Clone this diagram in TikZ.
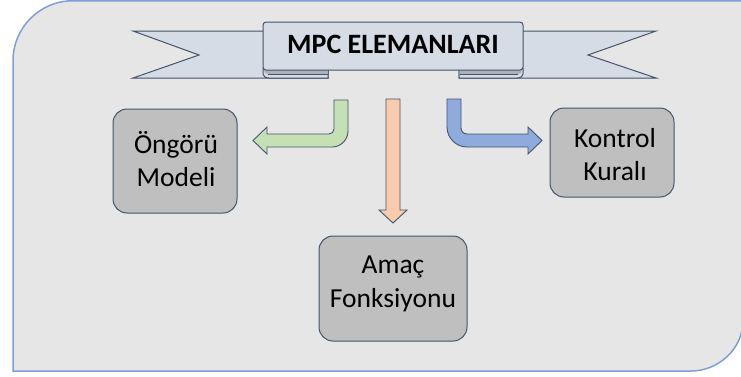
\documentclass[tikz,border=0pt]{standalone}
\usepackage{fontspec}
\setmainfont{Carlito}
\definecolor{bgfill}{HTML}{E7E6E6}
\definecolor{bgedge}{HTML}{7F9ED8}
\definecolor{edge}{HTML}{44546A}
\definecolor{ribbonfill}{HTML}{D6DCE5}
\definecolor{folddark}{HTML}{ABB2BC}
\definecolor{boxgray}{HTML}{BFBFBF}
\definecolor{greenfill}{HTML}{C5E0B4}
\definecolor{orangefill}{HTML}{F8CBAD}
\definecolor{bluefill}{HTML}{8FAADC}
\begin{document}
\begin{tikzpicture}[x=1pt,y=-1pt,
  boxnode/.style={draw=edge, fill=boxgray, rounded corners=14pt, line width=1pt, inner sep=0pt},
  lbl/.style={anchor=base, font=\fontsize{27.5}{33}\selectfont, inner sep=0pt},
  titlelbl/.style={anchor=base, font=\fontsize{28}{33}\selectfont\bfseries, inner sep=0pt},
  blockarrow/.style={draw=edge, line width=0.9pt, line join=miter},
  ribbon/.style={draw=edge, fill=ribbonfill, line width=1pt, line join=miter}]
\useasboundingbox (0,0) rectangle (741,376);
% background panel
\draw[fill=bgfill, draw=bgedge, line width=1.5pt]
  (13,371) -- (13,60.75) .. controls (13,27.6) and (39.9,0.75) .. (73,0.75)
  -- (743,0.75) -- (743,321) .. controls (743,348.6) and (718.6,371) .. (691,371) -- cycle;
% ribbon tails
\draw[ribbon] (133,31) -- (328,31) -- (328,78) -- (133,78) -- (199,55) -- cycle;
\draw[ribbon] (656,31) -- (459,31) -- (459,78) -- (656,78) -- (588,55) -- cycle;
% ribbon folds (curl under the centre band)
\draw[ribbon] (263,68) -- (328,68) -- (328,78) -- (269,78)
  .. controls (265.5,78) and (263,76.5) .. (263,74) -- cycle;
\fill[folddark] (264,70) -- (327.5,70) -- (327.5,74) -- (268,74)
  .. controls (265.5,74) and (264,72.5) .. (264,70) -- cycle;
\draw[edge, line width=0.6pt] (268,74) -- (327.5,74);
\draw[ribbon] (523,68) -- (459,68) -- (459,78) -- (517,78)
  .. controls (520.5,78) and (523,76.5) .. (523,74) -- cycle;
\fill[folddark] (522,70) -- (459.5,70) -- (459.5,74) -- (518,74)
  .. controls (520.5,74) and (522,72.5) .. (522,70) -- cycle;
\draw[edge, line width=0.6pt] (518,74) -- (459.5,74);
% ribbon centre
\node[ribbon, rounded corners=3pt, minimum width=260pt, minimum height=48pt, inner sep=0pt]
  (title) at (393,46) {};
\node[titlelbl] (titletext) at (393,53) {MPC ELEMANLARI};
% block arrows
\draw[blockarrow, fill=greenfill]
  (334,100) -- (348,100) -- (348,131) .. controls (348,139.8) and (340.8,147) .. (332,147)
  -- (267,147) -- (267,154) -- (253,140.5) -- (267,127) -- (267,134) -- (329,134)
  .. controls (331.8,134) and (334,131.8) .. (334,129) -- cycle;
\draw[blockarrow, fill=orangefill]
  (386,99) -- (400,99) -- (400,210) -- (407,210) -- (393,223) -- (379,210) -- (386,210) -- cycle;
\draw[blockarrow, fill=bluefill]
  (461,99) -- (447,99) -- (447,127) .. controls (447,138) and (456,147) .. (467,147)
  -- (528,147) -- (528,154) -- (542,140.5) -- (528,127) -- (528,134) -- (467,134)
  .. controls (463.7,134) and (461,131.3) .. (461,128) -- cycle;
% element boxes
\node[boxnode, minimum width=124pt, minimum height=104pt] (model) at (175,161) {};
\node[lbl] (modelA) at (176,153) {Öngörü};
\node[lbl] (modelB) at (176,186) {Modeli};
\node[boxnode, minimum width=124pt, minimum height=89pt] (rule) at (612,152.5) {};
\node[lbl] (ruleA) at (615,147) {Kontrol};
\node[lbl] (ruleB) at (615,180) {Kuralı};
\node[boxnode, minimum width=148pt, minimum height=105pt] (cost) at (393,288.5) {};
\node[lbl] (costA) at (393,273) {Amaç};
\node[lbl] (costB) at (393,307) {Fonksiyonu};
\end{tikzpicture}
\end{document}
